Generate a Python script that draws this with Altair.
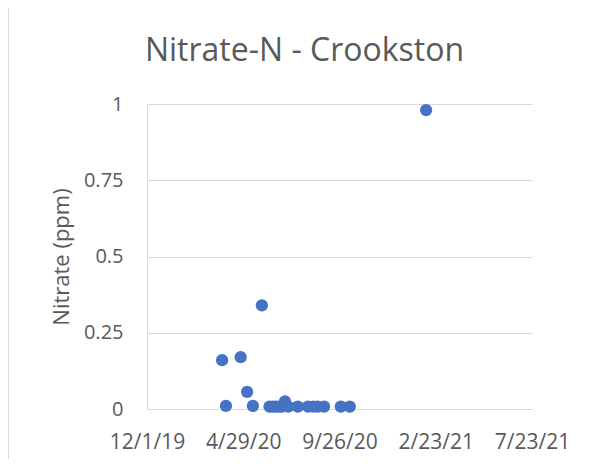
import altair as alt
import pandas as pd

dates = ["2020-03-27", "2020-04-02", "2020-04-25", "2020-05-05", "2020-05-14", "2020-05-28",
         "2020-06-09", "2020-06-14", "2020-06-19", "2020-06-24", "2020-06-28", "2020-07-03",
         "2020-07-08", "2020-07-23", "2020-08-08", "2020-08-16", "2020-08-23", "2020-09-02",
         "2020-09-28", "2020-10-12", "2021-02-08"]
nitrate = [0.16, 0.01, 0.17, 0.056, 0.01, 0.34,
           0.008, 0.008, 0.008, 0.008, 0.008, 0.025,
           0.008, 0.008, 0.008, 0.008, 0.008, 0.008,
           0.008, 0.008, 0.98]
y_ticks = [0, 0.25, 0.5, 0.75, 1]

df = pd.DataFrame({"date": dates, "nitrate": nitrate})

font = "Open Sans"
grey = "#595959"
light = "#d9d9d9"

x_ticks = [alt.DateTime(year=2019, month=12, date=1, utc=True),
           alt.DateTime(year=2020, month=4, date=29, utc=True),
           alt.DateTime(year=2020, month=9, date=26, utc=True),
           alt.DateTime(year=2021, month=2, date=23, utc=True),
           alt.DateTime(year=2021, month=7, date=23, utc=True)]

points = alt.Chart(df).mark_circle(size=150, opacity=1, color="#4472C4").encode(
    x=alt.X("date:T",
            scale=alt.Scale(type="utc", domain=[x_ticks[0], x_ticks[-1]]),
            axis=alt.Axis(values=x_ticks, format="%-m/%-d/%y", title=None,
                          grid=False, ticks=False, domainColor=light, domainWidth=1,
                          labelPadding=22, labelFontSize=21, labelColor=grey, labelFont=font,
                          labelOverlap=False, labelFlush=False)),
    y=alt.Y("nitrate:Q",
            scale=alt.Scale(domain=[0, 1], nice=False),
            axis=alt.Axis(values=y_ticks, format=".2~f", title="Nitrate (ppm)", titleFontSize=22,
                          titleFont=font, titleColor=grey, titleFontWeight="normal",
                          titlePadding=10, grid=True, gridColor=light, ticks=False,
                          domainColor=light, labelPadding=24, labelFontSize=20,
                          labelColor=grey, labelFont=font)),
)

frame = alt.Chart(df).mark_rect(fill=None, stroke=light, strokeWidth=1).encode(
    x=alt.value(-139), x2=alt.value(600), y=alt.value(-97), y2=alt.value(500)
)

chart = alt.layer(frame, points).properties(
    width=385, height=305,
    background="white",
    title=alt.TitleParams("Nitrate-N - Crookston", fontSize=32, font=font, color=grey,
                          fontWeight="normal", anchor="middle", frame="group", dx=-35,
                          offset=-61),
    padding={"left": 139, "top": 96, "right": 50, "bottom": 50},
    autosize=alt.AutoSizeParams(type="none"),
).configure_view(stroke=None)

chart.save("out.html", embed_options={"renderer": "svg", "actions": False})
